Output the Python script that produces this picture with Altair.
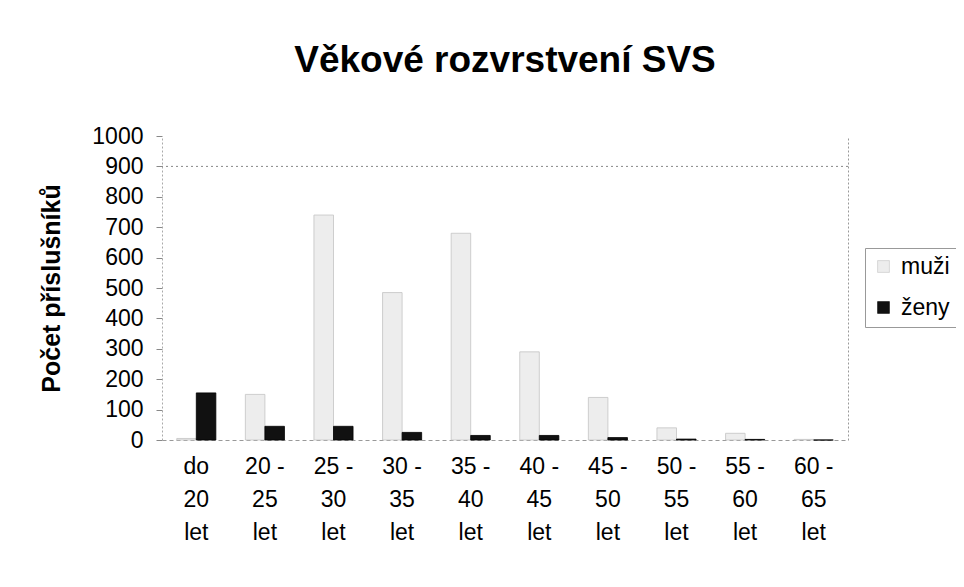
import altair as alt
import pandas as pd

categories = ["do 20 let", "20 - 25 let", "25 - 30 let", "30 - 35 let", "35 - 40 let",
              "40 - 45 let", "45 - 50 let", "50 - 55 let", "55 - 60 let", "60 - 65 let"]
muzi = [5, 150, 740, 485, 680, 290, 140, 40, 22, 2]
zeny = [155, 45, 45, 25, 15, 15, 8, 3, 2, 0]
series_names = ["muži", "ženy"]
gridline_values = [900]

rows = []
for c, m, z in zip(categories, muzi, zeny):
    rows.append({"kat": c, "serie": "muži", "pocet": m})
    rows.append({"kat": c, "serie": "ženy", "pocet": z})
df = pd.DataFrame(rows)
grid_df = pd.DataFrame({"v": gridline_values})

FONT = "Liberation Sans"
ydom = alt.Scale(domain=[0, 1000])

bars = alt.Chart(df).mark_bar(strokeWidth=0.8).encode(
    x=alt.X("kat:N", sort=categories,
            scale=alt.Scale(domain=categories, paddingInner=0.43, paddingOuter=0.215),
            axis=alt.Axis(title="", labelAngle=0, ticks=False, tickSize=0,
                          labelExpr="split(replace(datum.label, regexp(' (?=[0-9l])', 'g'), '|'), '|')",
                          labelFontSize=23, labelLineHeight=33, labelPadding=15,
                          labelBaseline="top", labelColor="#000", labelFont=FONT,
                          domainColor="#999", domainDash=[4, 3])),
    xOffset=alt.XOffset("serie:N", scale=alt.Scale(domain=series_names, paddingInner=0, paddingOuter=0)),
    y=alt.Y("pocet:Q", scale=ydom,
            axis=alt.Axis(title="Počet příslušníků", values=list(range(0, 1001, 100)), format="d",
                          grid=False, tickSize=6, tickColor="#888", labelPadding=13,
                          labelFontSize=23, labelColor="#000", labelFont=FONT,
                          titleFontSize=25, titleFontWeight="bold", titleFont=FONT,
                          titleColor="#000", titlePadding=27,
                          domainColor="#aaa", domainDash=[2, 2])),
    color=alt.Color("serie:N", scale=alt.Scale(domain=series_names, range=["#ededed", "#111111"]),
                    legend=alt.Legend(title=None, orient="none", legendX=703, legendY=112,
                                      labelFontSize=23, labelFont=FONT, labelColor="#000",
                                      symbolType="square", symbolSize=140,
                                      symbolStrokeColor="#888", symbolStrokeWidth=0.6,
                                      rowPadding=17, labelOffset=6, padding=7,
                                      strokeColor="#999")),
    stroke=alt.Stroke("serie:N", scale=alt.Scale(domain=series_names, range=["#c4c4c4", "#000000"]),
                      legend=None),
)

grid = alt.Chart(grid_df).mark_rule(color="#888", strokeDash=[2, 3], strokeWidth=1).encode(
    y=alt.Y("v:Q", scale=ydom, title="",
            axis=alt.Axis(orient="right", labels=False, ticks=False, grid=False,
                          domainColor="#999", domainDash=[2, 2]))
)

chart = alt.layer(grid, bars).resolve_axis(y="independent").properties(
    width=686, height=304,
    autosize="none",
    padding={"left": 154, "top": 128, "right": 108, "bottom": 120},
    title=alt.TitleParams("Věkové rozvrstvení SVS", font=FONT, fontSize=37, fontWeight="bold",
                          color="#000", anchor="middle", offset=45),
).configure(font=FONT).configure_view(stroke="transparent")

chart.save("out.html", embed_options={"renderer": "svg", "actions": False})
